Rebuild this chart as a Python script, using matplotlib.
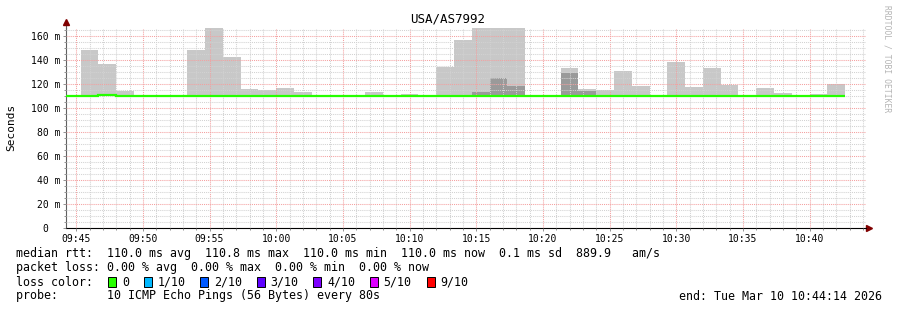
import matplotlib
matplotlib.use('Agg')
import matplotlib.pyplot as plt
import matplotlib.patches as patches
from matplotlib.ticker import MultipleLocator, FuncFormatter
import numpy as np

MONO = 'DejaVu Sans Mono'
W, H = 897, 310

# rrd steps of 80 s, first step starts 09:44:00 (seconds since midnight)
step_first = 9 * 3600 + 44 * 60
step_len = 80
view_start = 9 * 3600 + 44 * 60 + 14   # 09:44:14
view_end = 10 * 3600 + 44 * 60 + 14    # 10:44:14

nan = np.nan
# median rtt per step (ms)
median_ms = [110.0, 110.0, 111.0, 110.0, 110.0, 110.0, 110.0, 110.0, 110.0, 110.0,
             110.0, 110.0, 110.0, 110.0, 110.0, 110.0, 110.0, 110.0, 110.0, 110.0,
             110.0, 110.0, 110.0, 110.0, 110.0, 110.0, 110.0, 110.0, 110.0, 110.0,
             110.0, 110.0, 110.0, 110.0, 110.0, 110.0, 110.0, 110.0, 110.0, 110.0,
             110.0, 110.0, 110.0, 110.0]
# lowest ping per step (ms)
smoke_lo = [110.0] * 44
# highest ping per step (outer smoke, ms) - tops above 166 are clipped
smoke_hi = [nan, 148.3, 136.7, 114.4, nan, nan, nan, 148.3, 172.0, 142.5,
            115.8, 115.0, 116.7, 113.3, nan, nan, nan, 113.3, nan, 111.7,
            nan, 134.4, 156.7, 172.0, 172.0, 172.0, nan, nan, 133.3, 115.8,
            115.0, 130.8, 118.3, nan, 138.3, 117.5, 133.3, 119.2, nan, 116.7,
            112.5, nan, 111.7, 120.0]
# inner smoke layer (ms)
smoke_mid = [nan] * 23 + [113.3, 125.0, 118.3, nan, nan, 129.2, 114.2] + [nan] * 14

loss_colors = ['#26ff00', '#00b8ff', '#0059ff', '#5e00ff', '#7e00ff', '#dd00ff', '#ff0000']
loss_labels = ['0', '1/10', '2/10', '3/10', '4/10', '5/10', '9/10']

rtt_line = 'median rtt:  110.0 ms avg  110.8 ms max  110.0 ms min  110.0 ms now  0.1 ms sd  889.9   am/s'
loss_line = 'packet loss: 0.00 % avg  0.00 % max  0.00 % min  0.00 % now'
probe_line = 'probe:       10 ICMP Echo Pings (56 Bytes) every 80s'
end_line = 'end: Tue Mar 10 10:44:14 2026'

edges = step_first + step_len * np.arange(len(median_ms) + 1)
lo = np.array(smoke_lo)
hi = np.array(smoke_hi)
mid = np.array(smoke_mid)

fig = plt.figure(figsize=(W / 100, H / 100), dpi=100)
fig.patch.set_facecolor('white')
ax = fig.add_axes([66 / W, 1 - 228 / H, 800 / W, 200 / H])

# smoke
m = ~np.isnan(hi)
ax.bar(edges[:-1][m], hi[m] - lo[m], bottom=lo[m], width=step_len, align='edge',
       color='#c8c8c8', linewidth=0, zorder=1)
m = ~np.isnan(mid)
ax.bar(edges[:-1][m], mid[m] - lo[m], bottom=lo[m], width=step_len, align='edge',
       color='#9a9a9a', linewidth=0, zorder=1.5)
# median line coloured by loss
ax.stairs(median_ms, edges, baseline=None, color=loss_colors[0], linewidth=1.6, zorder=4)

ax.set_xlim(view_start, view_end)
ax.set_ylim(0, 166.7)

ax.xaxis.set_major_locator(MultipleLocator(300))
ax.xaxis.set_minor_locator(MultipleLocator(60))
ax.yaxis.set_major_locator(MultipleLocator(20))
ax.yaxis.set_minor_locator(MultipleLocator(5))
ax.xaxis.set_major_formatter(FuncFormatter(lambda v, p: '%02d:%02d' % (int(v) // 3600, int(v) % 3600 // 60)))
ax.yaxis.set_major_formatter(FuncFormatter(lambda v, p: '%d m' % v if v > 0 else '0  '))

ax.set_axisbelow(False)
ax.grid(which='major', color='#f4a0a0', linestyle=(0, (1, 1)), linewidth=0.75)
ax.grid(which='minor', color='#d2d2d2', linestyle=(0, (1, 1)), linewidth=0.75)

ax.tick_params(which='both', labelsize=7, length=2, width=0.6, color='#808080', pad=2)
ax.tick_params(which='minor', length=1.5)
for lab in ax.get_xticklabels() + ax.get_yticklabels():
    lab.set_family(MONO)

for s in ['top', 'right']:
    ax.spines[s].set_visible(False)
ax.spines['left'].set_color('#606060')
ax.spines['bottom'].set_color('black')
ax.spines['left'].set_linewidth(0.8)
ax.spines['bottom'].set_linewidth(0.8)
ax.plot([0, 0], [1, 1.03], color='#606060', lw=0.8, transform=ax.transAxes, clip_on=False)
ax.plot([0], [1.03], marker='^', ms=4, color='#800000', transform=ax.transAxes, clip_on=False)
ax.plot([1, 1.004], [0, 0], color='black', lw=0.8, transform=ax.transAxes, clip_on=False)
ax.plot([1.004], [0], marker='>', ms=4, color='#800000', transform=ax.transAxes, clip_on=False)

def fx(x):
    return x / W

def fy(y):
    return 1 - y / H

fig.text(fx(448), fy(19), 'USA/AS7992', ha='center', va='center', fontsize=9, family=MONO)
fig.text(fx(11), fy(127), 'Seconds', ha='center', va='center', rotation=90, fontsize=8, family=MONO)
fig.text(fx(887), fy(5), 'RRDTOOL / TOBI OETIKER', ha='center', va='top', rotation=-90,
         fontsize=5.8, color='#b4b4b4', family=MONO)

# legend
cw = 7.07
fs = 8.4
fig.text(fx(16), fy(254), rtt_line, ha='left', va='center', fontsize=fs, family=MONO)
fig.text(fx(16), fy(268), loss_line, ha='left', va='center', fontsize=fs, family=MONO)
fig.text(fx(16), fy(282), 'loss color:', ha='left', va='center', fontsize=fs, family=MONO)
fig.text(fx(16), fy(296), probe_line, ha='left', va='center', fontsize=fs, family=MONO)
fig.text(fx(882), fy(296), end_line, ha='right', va='center', fontsize=fs, family=MONO)

col = 13
for c, lab in zip(loss_colors, loss_labels):
    x0 = 16 + col * cw + 0.5
    fig.patches.append(patches.Rectangle((fx(x0), fy(287)), 8 / W, 10 / H, facecolor=c,
                                         edgecolor='black', linewidth=0.7,
                                         transform=fig.transFigure, figure=fig))
    fig.text(fx(16 + (col + 2) * cw), fy(282), lab, ha='left', va='center', fontsize=fs, family=MONO)
    col += 2 + len(lab) + 2

fig.savefig('out.png', dpi=100)
